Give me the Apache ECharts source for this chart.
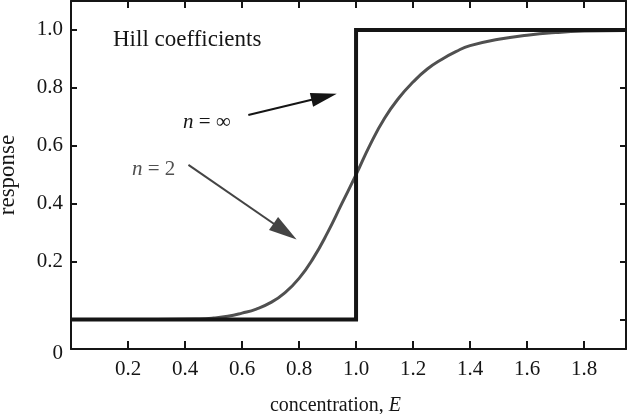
<!DOCTYPE html>
<html>
<head>
<meta charset="utf-8">
<script src="https://cdn.jsdelivr.net/npm/echarts@6/dist/echarts.min.js"></script>
<style>
  html, body { margin: 0; padding: 0; background: #ffffff; }
  #chart { width: 627px; height: 414px; }
</style>
</head>
<body>
<div id="chart"></div>
<script>
// ---- data ----
const concentration = [0, 0.3, 0.45, 0.5, 0.55, 0.6, 0.65, 0.7, 0.75, 0.8, 0.85, 0.9, 0.95, 1.0,
  1.05, 1.1, 1.15, 1.2, 1.25, 1.3, 1.35, 1.4, 1.5, 1.6, 1.7, 1.8, 1.947];
const responseHill2 = [0, 0, 0.002, 0.005, 0.011, 0.022, 0.036, 0.058, 0.092, 0.142, 0.212, 0.30, 0.40, 0.50,
  0.605, 0.695, 0.765, 0.82, 0.865, 0.898, 0.925, 0.946, 0.968, 0.982, 0.991, 0.996, 0.998];
const stepX = [0, 1.0, 1.0, 1.947];
const stepY = [0, 0, 1, 1];
const xTicks = [0.2, 0.4, 0.6, 0.8, 1.0, 1.2, 1.4, 1.6, 1.8];
const yTicks = [0.2, 0.4, 0.6, 0.8, 1.0];
const yRightTicks = [0, 0.2, 0.4, 0.6, 0.8, 1.0];
const arrowInfinity = [[0.622, 0.706], [0.888, 0.769]];
const arrowTwo = [[0.412, 0.534], [0.751, 0.304]];
const X_MIN = 0, X_MAX = 1.947, Y_MIN = -0.102, Y_MAX = 1.1;

const FONT = 'Liberation Serif';
const INK = '#151515';
const GREY = '#505050';

const chart = echarts.init(document.getElementById('chart'), null, { renderer: 'canvas' });

const axisLineStyle = { show: true, onZero: false, lineStyle: { color: INK, width: 2 } };

const option = {
  animation: false,
  backgroundColor: '#ffffff',
  grid: { left: 71, right: 1, top: 1, bottom: 65, show: false, containLabel: false, outerBoundsMode: 'none' },
  xAxis: [
    {
      type: 'value', position: 'bottom', min: X_MIN, max: X_MAX, interval: 0.2,
      axisLine: axisLineStyle,
      axisTick: { show: true, inside: true, length: 8, lineStyle: { color: INK, width: 2 },
                  customValues: xTicks },
      splitLine: { show: false },
      axisLabel: {
        customValues: xTicks, margin: 10,
        fontFamily: FONT, fontSize: 21, color: INK,
        formatter: v => v.toFixed(1)
      },
      name: '{a|concentration, }{b|E}',
      nameLocation: 'middle', nameGap: 47,
      nameTextStyle: {
        padding: [0, 26, 0, 0],
        rich: {
          a: { fontFamily: FONT, fontSize: 20, color: INK },
          b: { fontFamily: FONT, fontSize: 20, color: INK, fontStyle: 'italic' }
        }
      }
    },
    {
      type: 'value', position: 'top', min: X_MIN, max: X_MAX, interval: 0.2,
      axisLine: axisLineStyle,
      axisTick: { show: true, inside: true, length: 7, lineStyle: { color: INK, width: 2 },
                  customValues: xTicks },
      axisLabel: { show: false }, splitLine: { show: false }
    }
  ],
  yAxis: [
    {
      type: 'value', position: 'left', min: Y_MIN, max: Y_MAX,
      axisLine: axisLineStyle,
      axisTick: { show: true, inside: true, length: 6, lineStyle: { color: INK, width: 2 },
                  customValues: yTicks },
      splitLine: { show: false },
      axisLabel: {
        customValues: [Y_MIN].concat(yTicks), margin: 8,
        fontFamily: FONT, fontSize: 21, color: INK,
        formatter: v => (v < 0 ? '{z|0}' : v.toFixed(1)),
        rich: { z: { fontFamily: FONT, fontSize: 21, color: INK, padding: [9, 0, 0, 0] } }
      },
      name: 'response', nameLocation: 'middle', nameGap: 52,
      nameTextStyle: { fontFamily: FONT, fontSize: 23, color: INK }
    },
    {
      type: 'value', position: 'right', min: Y_MIN, max: Y_MAX,
      axisLine: axisLineStyle,
      axisTick: { show: true, inside: true, length: 6, lineStyle: { color: INK, width: 2 },
                  customValues: yRightTicks },
      axisLabel: { show: false }, splitLine: { show: false }
    }
  ],
  series: [
    {
      name: 'n = 2', type: 'line', xAxisIndex: 0, yAxisIndex: 0,
      data: concentration.map((x, i) => [x, responseHill2[i]]),
      smooth: 0.5, showSymbol: false, symbol: 'none', z: 2,
      lineStyle: { color: GREY, width: 3 },
      markLine: {
        silent: true, symbol: ['none', 'triangle'], symbolSize: [16, 28],
        label: { show: false },
        lineStyle: { color: '#444444', width: 2, type: 'solid' },
        data: [[{ coord: arrowTwo[0] }, { coord: arrowTwo[1] }]]
      }
    },
    {
      name: 'n = ∞', type: 'line', xAxisIndex: 0, yAxisIndex: 0,
      data: stepX.map((x, i) => [x, stepY[i]]),
      showSymbol: false, symbol: 'none', z: 3,
      lineStyle: { color: INK, width: 4, join: 'miter' },
      markLine: {
        silent: true, symbol: ['none', 'triangle'], symbolSize: [14, 26],
        label: { show: false },
        lineStyle: { color: INK, width: 2, type: 'solid' },
        data: [[{ coord: arrowInfinity[0] }, { coord: arrowInfinity[1] }]]
      }
    }
  ],
  graphic: [
    {
      type: 'text', left: 113, top: 28,
      style: { text: 'Hill coefficients', fontFamily: FONT, fontSize: 23, fill: INK }
    },
    {
      type: 'text', left: 183, top: 112,
      style: {
        text: '{i|n} = ∞',
        fontFamily: FONT, fontSize: 21, fill: INK,
        rich: { i: { fontFamily: FONT, fontSize: 21, fontStyle: 'italic', fill: INK } }
      }
    },
    {
      type: 'text', left: 132, top: 159,
      style: {
        text: '{i|n} = 2',
        fontFamily: FONT, fontSize: 21, fill: GREY,
        rich: { i: { fontFamily: FONT, fontSize: 21, fontStyle: 'italic', fill: GREY } }
      }
    }
  ]
};

chart.setOption(option);
</script>
</body>
</html>
